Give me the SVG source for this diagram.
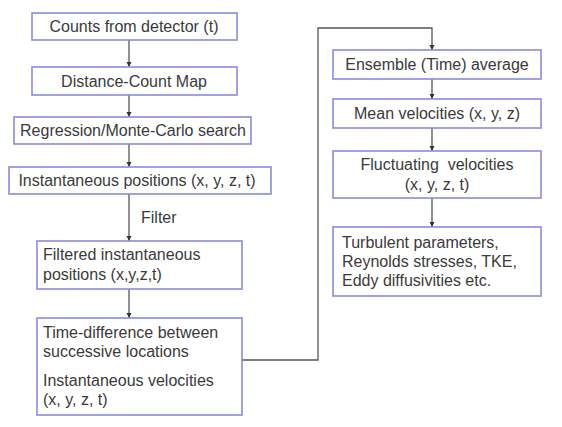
<svg xmlns="http://www.w3.org/2000/svg" width="562" height="427" viewBox="0 0 562 427">
<defs>
<style>
.box{fill:#fff;stroke:#8a8ae0;stroke-width:1.6}
.t{font-family:"Liberation Sans",Arial,sans-serif;font-size:16px;fill:#3a3a3a}
.c{text-anchor:middle}
.ln{fill:none;stroke:#555;stroke-width:1.3}
</style>
<marker id="ah" markerWidth="6" markerHeight="6" refX="5" refY="3" orient="auto" markerUnits="userSpaceOnUse">
<path d="M0,0.5 L5,3 L0,5.5 Z" fill="#333"/>
</marker>
</defs>
<rect width="562" height="427" fill="#fff"/>
<g id="connectors">
<line class="ln" x1="129" y1="40" x2="129" y2="67" marker-end="url(#ah)"/>
<line class="ln" x1="129" y1="95" x2="129" y2="117" marker-end="url(#ah)"/>
<line class="ln" x1="129" y1="144" x2="129" y2="167" marker-end="url(#ah)"/>
<line class="ln" x1="129" y1="194" x2="129" y2="241" marker-end="url(#ah)"/>
<line class="ln" x1="129" y1="289" x2="129" y2="318" marker-end="url(#ah)"/>
<polyline class="ln" points="242,360 318,360 318,28 432,28 432,50" marker-end="url(#ah)"/>
<line class="ln" x1="432" y1="79" x2="432" y2="99" marker-end="url(#ah)"/>
<line class="ln" x1="432" y1="128" x2="432" y2="151" marker-end="url(#ah)"/>
<line class="ln" x1="432" y1="198" x2="432" y2="227" marker-end="url(#ah)"/>
<text class="t" x="141" y="223">Filter</text>
</g>
<g id="n1"><rect class="box" x="32" y="13" width="205" height="27"/><text class="t c" x="134" y="32">Counts from detector (t)</text></g>
<g id="n2"><rect class="box" x="32" y="67" width="205" height="28"/><text class="t c" x="134" y="87">Distance-Count Map</text></g>
<g id="n3"><rect class="box" x="14" y="117" width="237" height="27"/><text class="t c" x="133" y="136">Regression/Monte-Carlo search</text></g>
<g id="n4"><rect class="box" x="9" y="167" width="262" height="27"/><text class="t c" x="137" y="186">Instantaneous positions (x, y, z, t)</text></g>
<g id="n5"><rect class="box" x="37" y="241" width="205" height="48"/><text class="t" x="43" y="260">Filtered instantaneous</text><text class="t" x="43" y="280">positions (x,y,z,t)</text></g>
<g id="n6"><rect class="box" x="37" y="318" width="205" height="97"/><text class="t" x="43" y="338">Time-difference between</text><text class="t" x="43" y="357">successive locations</text><text class="t" x="43" y="386">Instantaneous velocities</text><text class="t" x="43" y="405">(x, y, z, t)</text></g>
<g id="n7"><rect class="box" x="333" y="50" width="208" height="29"/><text class="t c" x="437" y="70">Ensemble (Time) average</text></g>
<g id="n8"><rect class="box" x="333" y="99" width="208" height="29"/><text class="t c" x="437" y="119">Mean velocities (x, y, z)</text></g>
<g id="n9"><rect class="box" x="333" y="151" width="208" height="47"/><text class="t c" x="437" y="170" xml:space="preserve">Fluctuating  velocities</text><text class="t c" x="437" y="190">(x, y, z, t)</text></g>
<g id="n10"><rect class="box" x="333" y="227" width="208" height="69"/><text class="t" x="342" y="248">Turbulent parameters,</text><text class="t" x="342" y="267">Reynolds stresses, TKE,</text><text class="t" x="342" y="286">Eddy diffusivities etc.</text></g>
</svg>
